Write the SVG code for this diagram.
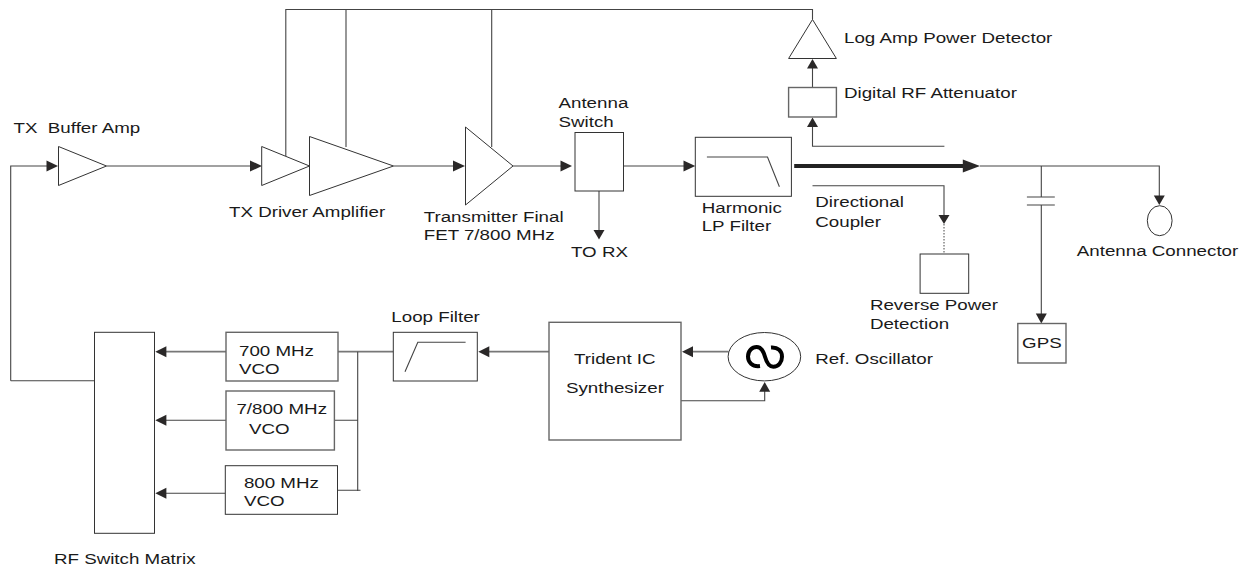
<svg xmlns="http://www.w3.org/2000/svg" width="1245" height="569" viewBox="0 0 1245 569">
<style>
text{font-family:"Liberation Sans",Arial,sans-serif;font-size:15.5px;fill:#1a1a1a;white-space:pre}
.n{fill:#fff;stroke:#333;stroke-width:1}
.g{fill:#fff;stroke:#666;stroke-width:1.4}
.c{fill:none;stroke:#444;stroke-width:1.1}
.t{fill:none;stroke:#777;stroke-width:1.8}
.h{fill:#2a2828;stroke:none}
</style>
<rect width="1245" height="569" fill="#fff"/>
<g id="connectors">
<path class="c" d="M10.7 380.7V166H47M94.5 380.7H10.7"/>
<path class="c" d="M106.5 166H250M393.5 166H453M513 166H562M623.500 166H684"/>
<path class="c" d="M285.8 156V9.5H812.500V19.5M346 147V9.5M491.7 147V9.5"/>
<path class="c" d="M599 191V231"/>
<path class="c" d="M812.500 87.5V68M944.400 146.300H812.500V127"/>
<path d="M794.200 166H963" fill="none" stroke="#222" stroke-width="4"/>
<path class="c" d="M980 166H1159.300V196M812.500 185.700H944V216"/>
<path d="M944 224V254" fill="none" stroke="#444" stroke-width="1" stroke-dasharray="1.5 1.5"/>
<path class="c" d="M1041.300 166V197M1026.900 197H1054.800M1026.900 205H1054.800M1041.300 205V314"/>
<path class="t" d="M226 351.700H166M334 351.700H393.300M549 351.700H489M728.500 351.700H692"/>
<path class="c" d="M226 420.300H166M225.300 493.300H166M357.700 351.700V491M334.400 420.300H357.700M337.500 490.300H360.500"/>
<path class="c" d="M681 400.700H764.700V391"/>
<g class="h">
<path d="M58 166L46.500 160.500V171.500Z"/>
<path d="M262 166L250 160.500V171.500Z"/>
<path d="M465 166L453 160.500V171.500Z"/>
<path d="M572 166L560.500 160.500V171.500Z"/>
<path d="M695.300 166L683.500 160.500V171.500Z"/>
<path d="M980 166L962.800 159.500V172.500Z"/>
<path d="M599 239.500L593.500 230H604.500Z"/>
<path d="M812.500 59L807 68.500H818Z"/>
<path d="M812.500 117.500L807 127H818Z"/>
<path d="M1159.300 205L1153.800 195.500H1164.800Z"/>
<path d="M944 224L938.500 215H949.500Z"/>
<path d="M1041.300 323.500L1035.800 313.500H1046.800Z"/>
<path d="M155.300 351.700L166.400 346.200V357.200Z"/>
<path d="M155.300 420.300L166.400 414.800V425.800Z"/>
<path d="M155.300 493.300L166.400 487.800V498.800Z"/>
<path d="M478.300 351.700L489.300 346.200V357.200Z"/>
<path d="M682 351.700L693 346.200V357.200Z"/>
<path d="M764.700 382L759.200 391.700H770.200Z"/>
</g>
</g>
<g id="tx-buffer-amp"><path class="n" d="M58.500 146.500V185.500L106.500 166Z"/><text transform="matrix(1.21 0 0 1 13.500 132.500)">TX  Buffer Amp</text></g>
<g id="tx-driver-amp"><path class="n" d="M261.700 146.500V185.500L309.500 166Z"/><path class="n" d="M309.500 136.500V195.500L393.500 166Z"/><text transform="matrix(1.21 0 0 1 229 217)">TX Driver Amplifier</text></g>
<g id="final-fet"><path class="n" d="M465.500 127V205L513 166Z"/><text transform="matrix(1.21 0 0 1 423.700 222)">Transmitter Final</text><text transform="matrix(1.21 0 0 1 423.700 240)">FET 7/800 MHz</text></g>
<g id="antenna-switch"><rect class="n" x="575" y="132.500" width="48.500" height="58.500"/><text transform="matrix(1.21 0 0 1 558.500 108)">Antenna</text><text transform="matrix(1.21 0 0 1 558.500 127)">Switch</text></g>
<g id="to-rx"><text transform="matrix(1.21 0 0 1 571 257)">TO RX</text></g>
<g id="harmonic-filter"><rect class="n" x="695.300" y="137.300" width="96.100" height="59"/><path class="c" d="M706.900 157H767.500L779.400 186.700"/><text transform="matrix(1.21 0 0 1 701.700 213.300)">Harmonic</text><text transform="matrix(1.21 0 0 1 701.700 231)">LP Filter</text></g>
<g id="log-amp"><path class="n" d="M812.500 19.500L788.600 58.500H836.400Z"/><text transform="matrix(1.21 0 0 1 844 43.300)">Log Amp Power Detector</text></g>
<g id="rf-attenuator"><rect class="g" x="788.600" y="87.500" width="47.800" height="29.500"/><text transform="matrix(1.21 0 0 1 844 98.300)">Digital RF Attenuator</text></g>
<g id="directional-coupler"><text transform="matrix(1.21 0 0 1 815.300 207.300)">Directional</text><text transform="matrix(1.21 0 0 1 815.300 227)">Coupler</text></g>
<g id="reverse-power"><rect class="n" x="920.100" y="254" width="48.600" height="39.300"/><text transform="matrix(1.21 0 0 1 869.900 310)">Reverse Power</text><text transform="matrix(1.21 0 0 1 869.900 329.300)">Detection</text></g>
<g id="antenna-connector"><ellipse class="n" cx="1159.700" cy="220.700" rx="12.400" ry="15"/><text transform="matrix(1.21 0 0 1 1076.800 256)">Antenna Connector</text></g>
<g id="gps"><rect class="g" x="1017.800" y="323.500" width="48.200" height="39.500"/><text transform="matrix(1.21 0 0 1 1041.900 348.300)" text-anchor="middle">GPS</text></g>
<g id="ref-oscillator"><ellipse class="n" cx="764.400" cy="356.700" rx="36.300" ry="24.200"/><path d="M760 366C752 367 748 362 748 356.500C748 351 752 347 756.700 347C761.500 347 763.500 351.500 765 356.700C766.500 362 769 366.700 773.300 366.700C778.500 366.700 782 362 782 356.700C782 351 778 347 771 347.500" fill="none" stroke="#000" stroke-width="4"/><text transform="matrix(1.21 0 0 1 815.300 364)">Ref. Oscillator</text></g>
<g id="trident"><rect class="g" x="549" y="322.300" width="132" height="117.700"/><text transform="matrix(1.21 0 0 1 574 364)">Trident IC</text><text transform="matrix(1.21 0 0 1 566 393.300)">Synthesizer</text></g>
<g id="loop-filter"><rect class="n" x="393.300" y="332.300" width="84" height="48.700"/><path class="c" d="M405 371.700L417.800 342.300H465.600"/><text transform="matrix(1.21 0 0 1 391.300 322.300)">Loop Filter</text></g>
<g id="vco-700"><rect class="g" x="226" y="332.300" width="112" height="48.700"/><text transform="matrix(1.21 0 0 1 239 356)">700 MHz</text><text transform="matrix(1.21 0 0 1 239 374)">VCO</text></g>
<g id="vco-7800"><rect class="g" x="226" y="391" width="108.400" height="59"/><text transform="matrix(1.21 0 0 1 236.400 414)">7/800 MHz</text><text transform="matrix(1.21 0 0 1 249 434)">VCO</text></g>
<g id="vco-800"><rect class="n" x="225.300" y="465.700" width="112.200" height="48.600"/><text transform="matrix(1.21 0 0 1 243.900 488.300)">800 MHz</text><text transform="matrix(1.21 0 0 1 243.900 506)">VCO</text></g>
<g id="rf-switch-matrix"><rect class="n" x="94.500" y="332.300" width="60" height="201"/><text transform="matrix(1.21 0 0 1 54 564)">RF Switch Matrix</text></g>
</svg>
